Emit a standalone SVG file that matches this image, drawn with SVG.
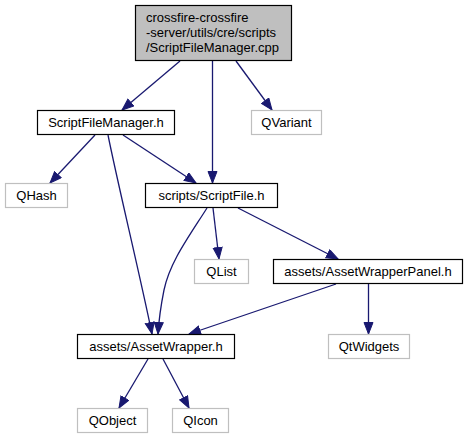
<svg xmlns="http://www.w3.org/2000/svg" width="469" height="440" viewBox="0 0 469 440">
<style>
  .n rect { fill: #ffffff; stroke: #000000; stroke-width: 1.2; }
  .x rect { fill: #ffffff; stroke: #bfbfbf; stroke-width: 1.2; }
  .top rect { fill: #bfbfbf; stroke: #000000; stroke-width: 1.2; }
  text { font-family: "Liberation Sans", Arial, sans-serif; font-size: 13px; fill: #000000; text-anchor: middle; }
  .top text { text-anchor: start; }
  .e path { fill: none; stroke: #191970; stroke-width: 1.3; marker-end: url(#ah); }
</style>
<defs>
  <marker id="ah" markerWidth="13" markerHeight="11" refX="12" refY="5" orient="auto" markerUnits="userSpaceOnUse">
    <path d="M0.5,0.5 L12,5 L0.5,9.5 z" fill="#191970" stroke="#191970" stroke-width="1"/>
  </marker>
</defs>
<rect width="469" height="440" fill="#ffffff"/>
<g id="edges" class="e">
  <path d="M180,61 L122,110"/>
  <path d="M212.5,61 L212.5,183"/>
  <path d="M236,61 L272,110"/>
  <path d="M95,135 L50,183"/>
  <path d="M123,135 L196,183"/>
  <path d="M108,135 C118,185 140,275 152,334"/>
  <path d="M207,208 C188,238 170,262 164,290 C161,305 159,318 158,334"/>
  <path d="M213,208 L219,259"/>
  <path d="M238,208 L338,259"/>
  <path d="M336,284 L189,334"/>
  <path d="M368.5,284 L368.5,334"/>
  <path d="M148,359 L119,408"/>
  <path d="M163,359 L189,408"/>
</g>
<g id="node_top" class="top">
  <rect x="135.5" y="5.5" width="156" height="55"/>
  <text x="146" y="22">crossfire-crossfire</text>
  <text x="146" y="37">-server/utils/cre/scripts</text>
  <text x="146" y="52">/ScriptFileManager.cpp</text>
</g>
<g id="node_sfm" class="n">
  <rect x="37.5" y="110.5" width="137" height="24"/>
  <text x="106" y="127">ScriptFileManager.h</text>
</g>
<g id="node_qvariant" class="x">
  <rect x="251.5" y="110.5" width="70" height="24"/>
  <text x="286.5" y="127">QVariant</text>
</g>
<g id="node_qhash" class="x">
  <rect x="5.5" y="183.5" width="62" height="24"/>
  <text x="36.5" y="200">QHash</text>
</g>
<g id="node_scriptfile" class="n">
  <rect x="145.5" y="183.5" width="132" height="24"/>
  <text x="211.5" y="200">scripts/ScriptFile.h</text>
</g>
<g id="node_qlist" class="x">
  <rect x="194.5" y="259.5" width="54" height="24"/>
  <text x="221.5" y="276">QList</text>
</g>
<g id="node_awp" class="n">
  <rect x="273.5" y="259.5" width="189" height="24"/>
  <text x="368" y="276">assets/AssetWrapperPanel.h</text>
</g>
<g id="node_aw" class="n">
  <rect x="77.5" y="334.5" width="157" height="24"/>
  <text x="156" y="351">assets/AssetWrapper.h</text>
</g>
<g id="node_qtwidgets" class="x">
  <rect x="328.5" y="334.5" width="81" height="24"/>
  <text x="369" y="351">QtWidgets</text>
</g>
<g id="node_qobject" class="x">
  <rect x="77.5" y="408.5" width="70" height="24"/>
  <text x="112.5" y="425">QObject</text>
</g>
<g id="node_qicon" class="x">
  <rect x="172.5" y="408.5" width="56" height="24"/>
  <text x="200.5" y="425">QIcon</text>
</g>
</svg>
